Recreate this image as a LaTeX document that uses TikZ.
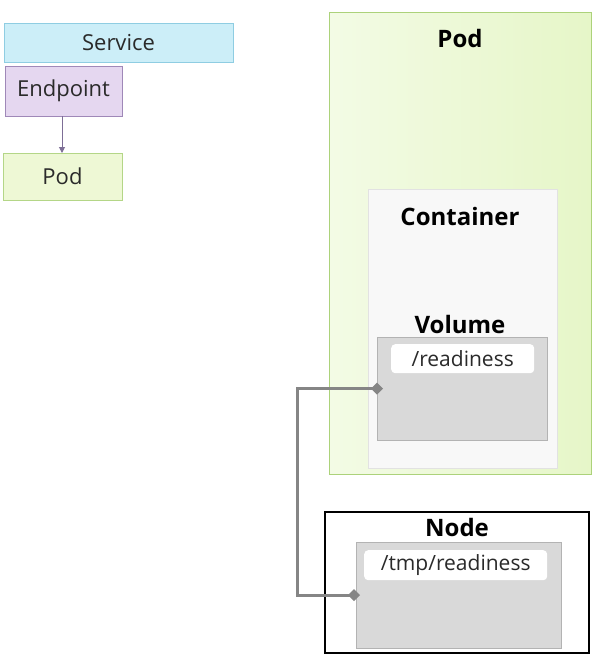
\documentclass[tikz,border=0pt]{standalone}
\usepackage{fontspec}
\setmainfont{Open Sans}
\usetikzlibrary{arrows.meta}
\definecolor{svcfill}{HTML}{CCEEF8}
\definecolor{svcdraw}{HTML}{8FCDE2}
\definecolor{epfill}{HTML}{E5D7F0}
\definecolor{epdraw}{HTML}{9F88B8}
\definecolor{podfill}{HTML}{EEF8D5}
\definecolor{poddraw}{HTML}{B4D687}
\definecolor{bigpodleft}{HTML}{F3FBE5}
\definecolor{bigpodright}{HTML}{E6F6C8}
\definecolor{bigpoddraw}{HTML}{ACD27A}
\definecolor{ctrfill}{HTML}{F8F8F8}
\definecolor{ctrdraw}{HTML}{E2E2E2}
\definecolor{volfill}{HTML}{D9D9D9}
\definecolor{voldraw}{HTML}{B3B3B3}
\definecolor{linkcol}{HTML}{858585}
\definecolor{arrowcol}{HTML}{7D6E96}
\definecolor{txt}{HTML}{2A2A2A}
\tikzset{
  box/.style={anchor=north west, inner sep=0pt, outer sep=0pt, line width=1pt},
  smalltxt/.style={font=\fontsize{22}{26}\selectfont, text=txt},
  boldtxt/.style={font=\fontsize{24}{28}\selectfont\bfseries, text=black},
  pathtxt/.style={font=\fontsize{21}{25}\selectfont, text=txt},
  whitebox/.style={anchor=north west, inner sep=0pt, fill=white, rounded corners=4pt},
}
\begin{document}
\begin{tikzpicture}[x=1pt,y=1pt]
\useasboundingbox[fill=white] (0,0) rectangle (602,-670);
% left legend
\node[box, draw=svcdraw, fill=svcfill, minimum width=229, minimum height=39] (service) at (4,-23) {};
\node[smalltxt] (servicetxt) at (service.center) {Service};
\node[box, draw=epdraw, fill=epfill, minimum width=117, minimum height=50] (endpoint) at (5,-66) {};
\node[smalltxt] (endpointtxt) at (endpoint.center) {Endpoint};
\node[box, draw=poddraw, fill=podfill, minimum width=119, minimum height=47] (podsmall) at (3,-153) {};
\node[smalltxt] (podsmalltxt) at (podsmall.center) {Pod};
\draw[arrowcol, line width=1pt, -{Triangle[width=6pt,length=6pt]}] (endpoint.south -| 62,0) -- (podsmall.north -| 62,0);
% big pod
\node[box, draw=bigpoddraw, left color=bigpodleft, right color=bigpodright, minimum width=262, minimum height=462] (pod) at (329,-12) {};
\node[boldtxt] (podtxt) at (460,-38) {Pod};
\node[box, draw=ctrdraw, fill=ctrfill, minimum width=189, minimum height=279] (container) at (368,-189) {};
\node[boldtxt] (containertxt) at (460,-216) {Container};
\node[boldtxt] (volumetxt) at (460,-324) {Volume};
\node[box, draw=voldraw, fill=volfill, minimum width=170, minimum height=103] (volume) at (377,-337) {};
\node[whitebox, minimum width=143, minimum height=29] (readiness) at (391,-344) {};
\node[pathtxt] (readinesstxt) at (readiness.center) {/readiness};
% node
\node[box, draw=black, fill=white, line width=1.3pt, minimum width=264, minimum height=141] (node) at (325,-512) {};
\node[boldtxt] (nodetxt) at (457,-527) {Node};
\node[box, draw=voldraw, fill=volfill, minimum width=205, minimum height=106] (hostvol) at (356,-542) {};
\node[whitebox, minimum width=183, minimum height=30] (tmpread) at (364,-550) {};
\node[pathtxt] (tmpreadtxt) at (tmpread.center) {/tmp/readiness};
% connector
\draw[linkcol, line width=3pt, {Diamond[width=12pt,length=12pt]}-{Diamond[width=12pt,length=12pt]}]
  ([xshift=6pt]volume.west) -- (297,-388.5) |- ([xshift=4pt]hostvol.west);
\end{tikzpicture}
\end{document}
